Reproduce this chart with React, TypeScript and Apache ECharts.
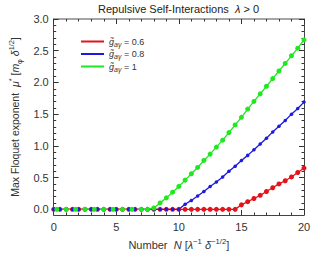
import React, { useEffect, useRef } from "react";
import * as echarts from "echarts";

// g_aγ = 0.6 (red)
const redN = [0, 0.5, 1, 1.5, 2, 2.5, 3, 3.5, 4, 4.5, 5, 5.5, 6, 6.5, 7, 7.5, 8, 8.5, 9, 9.5, 10, 10.5, 11, 11.5, 12, 12.5, 13, 13.5, 14, 14.5, 15, 15.5, 16, 16.5, 17, 17.5, 18, 18.5, 19, 19.5, 20];
const redV = [0, 0, 0, 0, 0, 0, 0, 0, 0, 0, 0, 0, 0, 0, 0, 0, 0, 0, 0, 0, 0, 0, 0, 0, 0, 0, 0, 0, 0, 0, 0.07, 0.12, 0.17, 0.22, 0.28, 0.34, 0.4, 0.45, 0.51, 0.58, 0.65];
// g_aγ = 0.8 (blue)
const blueN = [0, 0.5, 1, 1.5, 2, 2.5, 3, 3.5, 4, 4.5, 5, 5.5, 6, 6.5, 7, 7.5, 8, 8.5, 9, 9.5, 10, 10.5, 11, 11.5, 12, 12.5, 13, 13.5, 14, 14.5, 15, 15.5, 16, 16.5, 17, 17.5, 18, 18.5, 19, 19.5, 20];
const blueV = [0, 0, 0, 0, 0, 0, 0, 0, 0, 0, 0, 0, 0, 0, 0, 0, 0, 0, 0, 0, 0, 0.08, 0.14, 0.21, 0.28, 0.36, 0.43, 0.51, 0.6, 0.68, 0.77, 0.85, 0.94, 1.03, 1.12, 1.22, 1.31, 1.4, 1.5, 1.59, 1.69];
// g_aγ = 1 (green)
const greenN = [0.25, 1, 1.75, 2.5, 3.25, 4, 4.75, 5.5, 6.25, 7, 7.5, 8, 8.5, 9, 9.5, 10, 10.5, 11, 11.5, 12, 12.5, 13, 13.5, 14, 14.5, 15, 15.5, 16, 16.5, 17, 17.5, 18, 18.5, 19, 19.5, 20];
const greenV = [0, 0, 0, 0, 0, 0, 0, 0, 0, 0, 0, 0.02, 0.1, 0.18, 0.27, 0.36, 0.46, 0.56, 0.66, 0.77, 0.87, 0.98, 1.09, 1.21, 1.33, 1.45, 1.58, 1.7, 1.82, 1.94, 2.06, 2.18, 2.3, 2.42, 2.54, 2.67];

const seriesNames = ["0.6", "0.8", "1"];
const xTickLabels = [0, 5, 10, 15, 20];
const yTickLabels = [0, 0.5, 1, 1.5, 2, 2.5, 3];
const xMinorTicks = [0, 1, 2, 3, 4, 5, 6, 7, 8, 9, 10, 11, 12, 13, 14, 15, 16, 17, 18, 19, 20];
const yMinorTicks = [0, 0.1, 0.2, 0.3, 0.4, 0.5, 0.6, 0.7, 0.8, 0.9, 1, 1.1, 1.2, 1.3, 1.4, 1.5, 1.6, 1.7, 1.8, 1.9, 2, 2.1, 2.2, 2.3, 2.4, 2.5, 2.6, 2.7, 2.8, 2.9, 3];

const FONT = "'Liberation Sans', Arial, sans-serif";
const X_MIN = 0, X_MAX = 20, Y_MIN = -0.09, Y_MAX = 3;

function zip(n: number[], v: number[]) {
  return n.map((x, i) => [x, v[i]]);
}

const richBase = (size: number, color: string) => ({
  a: { fontSize: size, fontFamily: FONT, color, fontWeight: "normal" as const, lineHeight: size + 4 },
  i: { fontSize: size, fontFamily: FONT, color, fontWeight: "normal" as const, fontStyle: "italic" as const, lineHeight: size + 4 },
  sup: { fontSize: size * 0.7, fontFamily: FONT, color, fontWeight: "normal" as const, verticalAlign: "top" as const, lineHeight: size + 2 },
  sub: { fontSize: size * 0.7, fontFamily: FONT, color, fontWeight: "normal" as const, verticalAlign: "bottom" as const, lineHeight: size + 2 },
});

export default function App() {
  const ref = useRef<HTMLDivElement>(null);
  useEffect(() => {
    document.body.style.margin = "0";
    const chart = echarts.init(ref.current!, undefined, { renderer: "svg" });
    const frame = "#444";
    const tickStyle = { color: "#333", width: 1 };
    const mkX = (pos: "bottom" | "top", major: boolean, main: boolean) => ({
      type: "value",
      min: X_MIN,
      max: X_MAX,
      position: pos,
      offset: 0,
      axisLine: { show: main, onZero: false, lineStyle: { color: pos === "top" ? "#888" : frame, width: pos === "top" ? 1.5 : 1 } },
      axisTick: { show: true, inside: true, length: major ? 5 : 2.5, customValues: major ? xTickLabels : xMinorTicks, lineStyle: tickStyle },
      axisLabel: pos === "bottom" && major
        ? { show: true, customValues: xTickLabels, margin: 6, fontSize: 11, fontFamily: FONT, color: "#333" }
        : { show: false },
      splitLine: { show: false },
      ...(pos === "bottom" && major
        ? {
            name: "{a|Number  }{i|N}{a| [}{i|λ}{sup|−1}{a| }{i|δ}{sup|−1/2}{a|]}",
            nameLocation: "middle",
            nameGap: 22,
            nameTextStyle: { rich: richBase(11, "#333") },
          }
        : {}),
    });
    const mkY = (pos: "left" | "right", major: boolean, main: boolean) => ({
      type: "value",
      min: Y_MIN,
      max: Y_MAX,
      position: pos,
      offset: 0,
      axisLine: { show: main, onZero: false, lineStyle: { color: frame, width: 1 } },
      axisTick: { show: true, inside: true, length: major ? 5 : 2.5, customValues: major ? yTickLabels : yMinorTicks, lineStyle: tickStyle },
      axisLabel: pos === "left" && major
        ? { show: true, customValues: yTickLabels, margin: 5, fontSize: 11, fontFamily: FONT, color: "#333", formatter: (v: number) => v.toFixed(1) }
        : { show: false },
      splitLine: { show: false },
      ...(pos === "left" && major
        ? {
            name: "{a|Max Floquet exponent  }{i|μ}{sup|*}{a| [}{i|m}{sub|φ}{a| }{i|δ}{sup|1/2}{a|]}",
            nameLocation: "middle",
            nameRotate: 90,
            nameGap: 27,
            nameTextStyle: { rich: richBase(10.5, "#333") },
          }
        : {}),
    });

    const mkSeries = (name: string, n: number[], v: number[], color: string, size: number) => ({
      name,
      type: "line",
      xAxisIndex: 0,
      yAxisIndex: 0,
      data: zip(n, v),
      symbol: "circle",
      symbolSize: size,
      showSymbol: true,
      itemStyle: { color },
      lineStyle: { color, width: 1.3 },
      clip: true,
    });

    chart.setOption({
      animation: false,
      backgroundColor: "#fff",
      title: {
        text: "{a|Repulsive Self-Interactions  }{i|λ}{a| > 0}",
        left: 178.5,
        top: 1,
        textAlign: "center",
        padding: 0,
        textStyle: { fontWeight: "normal", rich: richBase(11, "#222") },
      },
      grid: { left: 53, right: 26, top: 19, bottom: 36, containLabel: false },
      legend: {
        orient: "vertical",
        left: 76,
        top: 32,
        itemWidth: 23,
        itemHeight: 2,
        itemGap: 2,
        icon: "rect",
        data: seriesNames,
        formatter: (name: string) => `{g|g̃}{s|aγ}{t| = ${name}}`,
        textStyle: {
          rich: {
            g: { fontSize: 9, fontFamily: FONT, fontStyle: "italic", color: "#333", lineHeight: 12 },
            s: { fontSize: 7, fontFamily: FONT, fontStyle: "italic", color: "#333", verticalAlign: "bottom", lineHeight: 11 },
            t: { fontSize: 9, fontFamily: FONT, color: "#333", lineHeight: 12 },
          },
        },
      },
      xAxis: [mkX("bottom", true, true), mkX("bottom", false, false), mkX("top", true, true), mkX("top", false, false)],
      yAxis: [mkY("left", true, true), mkY("left", false, false), mkY("right", true, true), mkY("right", false, false)],
      series: [
        mkSeries(seriesNames[0], redN, redV, "#e4121a", 5),
        mkSeries(seriesNames[1], blueN, blueV, "#1a1ae0", 3.5),
        mkSeries(seriesNames[2], greenN, greenV, "#1ee81e", 5),
      ],
    });
    return () => chart.dispose();
  }, []);
  return <div ref={ref} style={{ position: "absolute", left: 0, top: 0, width: 330, height: 255 }} />;
}
